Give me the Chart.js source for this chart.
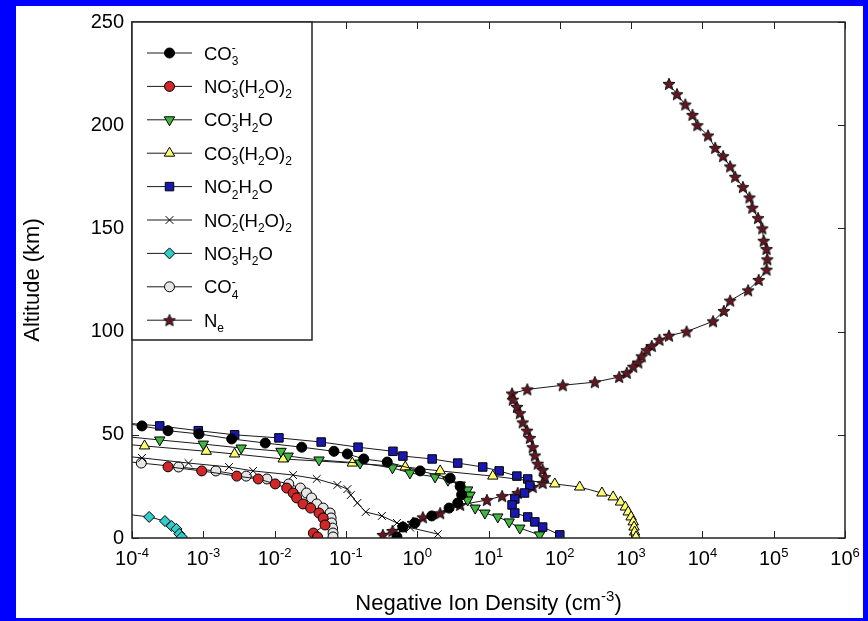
<!DOCTYPE html>
<html lang="en">
<head>
<meta charset="UTF-8">
<title>Negative Ion Density</title>
<script src="https://cdn.jsdelivr.net/npm/chart.js"></script>
<style>
  html, body { margin: 0; padding: 0; background: #0000ff; }
  #wrap { position: absolute; left: 0; top: 0; width: 868px; height: 621px; }
</style>
</head>
<body>
<div id="wrap"><canvas id="ionChart" width="868" height="621"></canvas></div>
<script>
// profiles: altitude (km) and density (cm^-3)
const co3Alt  = [56, 54.3, 52, 50.4, 48, 46, 44, 42, 40.7, 38.3, 36.8, 32.5, 29, 25, 21, 17, 14.5, 10.7, 7.3, 5.3, 0.5];
const co3Dens = [6.3e-5, 1.38e-4, 3.2e-4, 8.7e-4, 2.5e-3, 7.4e-3, 2.4e-2, 6.8e-2, 0.105, 0.178, 0.38, 1.1, 2.9, 4.0, 4.2, 3.7, 2.8, 1.6, 0.93, 0.63, 0.52];

const no3w2Alt  = [34.5, 32.5, 30, 28.6, 26.2, 24.2, 21.8, 19.4, 16.5, 14.5, 12.1, 9.7, 6.3, 2.4, 0.5];
const no3w2Dens = [3.2e-4, 9.5e-4, 2.95e-3, 5.9e-3, 1.02e-2, 1.48e-2, 1.82e-2, 2.04e-2, 2.5e-2, 3.2e-2, 4.2e-2, 4.8e-2, 5.1e-2, 3.5e-2, 4.0e-2];

const co3wAlt  = [49.5, 47.5, 45.5, 43.6, 42, 39.7, 37.8, 36.3, 34, 31.5, 29.6, 28, 25.7, 23.3, 20.8, 18.4, 14.5, 12.1, 10.2, 7.8, 4.8, 1.5];
const co3wDens = [6.3e-5, 2.45e-4, 1.0e-3, 3.4e-3, 1.23e-2, 1.55e-2, 4.2e-2, 0.158, 0.45, 0.79, 1.78, 2.7, 4.0, 5.1, 5.5, 5.1, 6.5, 8.9, 13.5, 19.5, 27.5, 52];

const co3w2Alt  = [45.7, 44.6, 42, 40.7, 38.3, 36.3, 34.4, 32.5, 30, 26.2, 24.7, 21.8, 19.9, 17.4, 15, 12.6, 10.2, 7.8, 5.3, 2.9, 0.5];
const co3w2Dens = [6.3e-5, 1.5e-4, 1.1e-3, 2.75e-3, 1.32e-2, 0.123, 0.68, 2.1, 11.5, 85, 190, 390, 560, 710, 830, 910, 1000, 1070, 1100, 1120, 1170];

const no2wAlt  = [56, 54.3, 52, 50, 48.5, 46.5, 44, 42, 39.7, 38.3, 36.3, 34.4, 32.5, 30, 28.6, 25.5, 21.8, 18.9, 16, 12.1, 10.2, 7.8, 5.3, 1.5];
const no2wDens = [6.3e-5, 2.45e-4, 8.5e-4, 2.75e-3, 1.15e-2, 4.5e-2, 0.148, 0.457, 0.63, 1.62, 3.7, 8.3, 14.1, 25, 35.5, 38, 32, 23.4, 21.4, 23.4, 35.5, 44.7, 57.5, 100];

const no2w2Alt  = [40, 38.8, 36.3, 34.4, 32.5, 30.5, 28.6, 25.7, 23.7, 20.8, 17, 12.6, 10.7, 7.3, 5, 1.9];
const no2w2Dens = [6.3e-5, 1.38e-4, 6.2e-4, 2.3e-3, 5.0e-3, 1.82e-2, 3.9e-2, 7.6e-2, 0.105, 0.117, 0.145, 0.19, 0.32, 0.52, 0.8, 1.95];

const no3wAlt  = [12, 10.2, 8.2, 5.8, 4.4, 2, 0.5];
const no3wDens = [6.3e-5, 1.74e-4, 2.9e-4, 3.6e-4, 4.2e-4, 4.6e-4, 5.0e-4];

const co4Alt  = [37.5, 36.3, 34.4, 32.5, 30, 28.6, 26.2, 24.2, 21.8, 19.4, 16.5, 14.5, 12.1, 9.7, 7.3, 4.8, 2.4, 0.5];
const co4Dens = [6.3e-5, 1.35e-4, 4.5e-4, 1.5e-3, 4.0e-3, 7.8e-3, 1.58e-2, 2.3e-2, 2.8e-2, 3.3e-2, 3.9e-2, 4.8e-2, 6.0e-2, 6.2e-2, 6.3e-2, 6.5e-2, 6.6e-2, 6.6e-2];

const neAlt  = [220, 215, 210, 205, 200, 195, 189, 185, 180, 175, 170, 165, 160, 155, 150, 144, 140, 135, 130, 125, 120, 115, 110, 105, 100, 98, 96, 93, 91, 88, 85, 83, 80, 78, 75.5, 74, 72, 70, 67, 63.5, 60.5, 56, 52, 48.5, 44, 40, 36, 33, 29.5, 26.6, 24.7, 21.8, 20.3, 18.4, 16, 12, 10, 7.3, 5.3, 3.4, 1.5];
const neDens = [3400, 4400, 5750, 7250, 8500, 12000, 15100, 19500, 24500, 28800, 37000, 45700, 50100, 60300, 69200, 72400, 79400, 81300, 79400, 61700, 43700, 24500, 20000, 14100, 6000, 3400, 2500, 1950, 1660, 1410, 1260, 1070, 870, 680, 310, 110, 35, 21.4, 21.9, 25.1, 27.5, 30.2, 34.7, 38, 41.7, 44.7, 49, 57.5, 61.7, 57.5, 41.7, 25.7, 15.5, 9.5, 4.0, 2.1, 1.2, 0.87, 0.63, 0.45, 0.33];

const seriesNames = ['CO₃⁻', 'NO₃⁻(H₂O)₂', 'CO₃⁻H₂O', 'CO₃⁻(H₂O)₂', 'NO₂⁻H₂O', 'NO₂⁻(H₂O)₂', 'NO₃⁻H₂O', 'CO₄⁻', 'Nₑ'];

const xTickVals   = [1e-4, 1e-3, 1e-2, 1e-1, 1e0, 1e1, 1e2, 1e3, 1e4, 1e5, 1e6];
const xTickLabels = ['10⁻⁴', '10⁻³', '10⁻²', '10⁻¹', '10⁰', '10¹', '10²', '10³', '10⁴', '10⁵', '10⁶'];
const yTickVals   = [0, 50, 100, 150, 200, 250];

const FONT = '"Liberation Sans", Arial, sans-serif';

// 5 point filled star, chart.js has no filled star
function makeStar(r, fill) {
    var s = Math.ceil(r * 2 + 3);
    var c = document.createElement('canvas');
    c.width = s; c.height = s;
    var g = c.getContext('2d');
    g.translate(s / 2, s / 2 + 0.5);
    g.beginPath();
    for (var i = 0; i < 10; i++) {
        var rr = i % 2 ? r * 0.45 : r;
        var a = -Math.PI / 2 + i * Math.PI / 5;
        g.lineTo(rr * Math.cos(a), rr * Math.sin(a));
    }
    g.closePath();
    g.fillStyle = fill; g.fill();
    g.strokeStyle = '#111'; g.lineWidth = 1; g.stroke();
    return c;
}
const starImg = makeStar(6.3, '#641520');

function pts(dens, alt) {
    return dens.map(function (d, i) { return { x: d, y: alt[i] }; });
}

function series(i, dens, alt, style, fill, size, extra) {
    return Object.assign({
        label: seriesNames[i],
        data: pts(dens, alt),
        showLine: true,
        borderColor: '#1a1a1a',
        borderWidth: 1,
        pointStyle: style,
        pointRadius: size,
        pointHoverRadius: size,
        pointBackgroundColor: fill,
        pointBorderColor: '#000',
        pointBorderWidth: 1,
        tension: 0
    }, extra || {});
}

// text with unicode sub/superscripts drawn as small raised / lowered glyphs
const SUB = { '₀': '0', '₁': '1', '₂': '2', '₃': '3', '₄': '4', 'ₑ': 'e' };
const SUP = { '⁰': '0', '¹': '1', '²': '2', '³': '3', '⁴': '4', '⁵': '5', '⁶': '6', '⁻': '-' };

function layoutRich(ctx, text, size) {
    var small = Math.round(size * 0.66);
    var out = [], cur = 0, subX = null;
    for (var ch of text) {
        var kind = SUB[ch] ? 'sub' : (SUP[ch] ? 'sup' : 'n');
        var t = kind === 'sub' ? SUB[ch] : (kind === 'sup' ? SUP[ch] : ch);
        ctx.font = (kind === 'n' ? size : small) + 'px ' + FONT;
        var w = ctx.measureText(t).width;
        if (kind === 'sup' && subX !== null) {
            out.push({ t: t, k: kind, x: subX, f: ctx.font });
            cur = Math.max(cur, subX + w);
            subX = null;
            continue;
        }
        out.push({ t: t, k: kind, x: cur, f: ctx.font });
        subX = kind === 'sub' ? cur : null;
        cur += w;
    }
    return { parts: out, width: cur };
}

function drawRich(ctx, text, x, y, size, align) {
    var lay = layoutRich(ctx, text, size);
    var x0 = align === 'center' ? x - lay.width / 2 : x;
    ctx.textBaseline = 'alphabetic';
    ctx.textAlign = 'left';
    lay.parts.forEach(function (p) {
        ctx.font = p.f;
        var dy = p.k === 'sub' ? size * 0.3 : (p.k === 'sup' ? -size * 0.42 : 0);
        ctx.fillText(p.t, x0 + p.x, y + dy);
    });
}

const framePlugin = {
    id: 'frame',
    beforeDraw: function (chart) {
        var ctx = chart.ctx;
        ctx.save();
        ctx.fillStyle = '#0000ff';
        ctx.fillRect(0, 0, chart.width, chart.height);
        ctx.fillStyle = '#ffffff';
        ctx.fillRect(16, 6, 847, 612);
        ctx.restore();
    },
    afterDatasetsDraw: function (chart) {
        var ctx = chart.ctx, a = chart.chartArea;
        var xs = chart.scales.x, ys = chart.scales.y;
        ctx.save();
        ctx.strokeStyle = '#222';
        ctx.lineWidth = 1.5;
        ctx.strokeRect(a.left, a.top, a.right - a.left, a.bottom - a.top);
        ctx.lineWidth = 1;
        ctx.beginPath();
        xTickVals.forEach(function (v) {
            var px = Math.round(xs.getPixelForValue(v)) + 0.5;
            ctx.moveTo(px, a.bottom); ctx.lineTo(px, a.bottom - 7);
            ctx.moveTo(px, a.top); ctx.lineTo(px, a.top + 7);
        });
        yTickVals.forEach(function (v) {
            var py = Math.round(ys.getPixelForValue(v)) + 0.5;
            ctx.moveTo(a.left, py); ctx.lineTo(a.left + 7, py);
            ctx.moveTo(a.right, py); ctx.lineTo(a.right - 7, py);
        });
        ctx.stroke();

        // x tick labels with superscript exponents
        ctx.fillStyle = '#000';
        xTickVals.forEach(function (v, i) {
            drawRich(ctx, xTickLabels[i], xs.getPixelForValue(v), a.bottom + 27, 20, 'center');
        });
        // x axis title
        drawRich(ctx, 'Negative Ion Density (cm⁻³)', (a.left + a.right) / 2, 610, 22, 'center');

        // legend box
        var lx = a.left, ly = a.top, lw = 180, lh = 318;
        ctx.fillStyle = '#fff';
        ctx.fillRect(lx, ly, lw, lh);
        ctx.strokeStyle = '#222';
        ctx.lineWidth = 1.5;
        ctx.strokeRect(lx, ly, lw, lh);
        chart.data.datasets.forEach(function (ds, i) {
            var ry = 53 + i * 33.4;
            ctx.strokeStyle = '#1a1a1a';
            ctx.lineWidth = 1;
            ctx.beginPath();
            ctx.moveTo(147, ry); ctx.lineTo(192, ry);
            ctx.stroke();
            ctx.fillStyle = ds.pointBackgroundColor;
            ctx.strokeStyle = ds.pointBorderColor;
            ctx.lineWidth = 1;
            if (Chart.helpers && Chart.helpers.drawPoint) {
                Chart.helpers.drawPoint(ctx, {
                    pointStyle: ds.pointStyle,
                    rotation: ds.pointRotation || 0,
                    radius: ds.pointRadius,
                    borderWidth: 1
                }, 169.5, ry);
            }
            ctx.fillStyle = '#000';
            drawRich(ctx, ds.label, 204, ry + 6.5, 18.5, 'left');
        });
        ctx.restore();
    }
};

const ctx = document.getElementById('ionChart').getContext('2d');
const ionChart = new Chart(ctx, {
    type: 'scatter',
    data: {
        datasets: [
            series(0, co3Dens, co3Alt, 'circle', '#000000', 5),
            series(1, no3w2Dens, no3w2Alt, 'circle', '#d02828', 5),
            series(2, co3wDens, co3wAlt, 'triangle', '#3fb83f', 6, { pointRotation: 180 }),
            series(3, co3w2Dens, co3w2Alt, 'triangle', '#ffff70', 6),
            series(4, no2wDens, no2wAlt, 'rect', '#1818b0', 6),
            series(5, no2w2Dens, no2w2Alt, 'crossRot', '#000000', 5.5),
            series(6, no3wDens, no3wAlt, 'rectRot', '#33cccc', 5.5),
            series(7, co4Dens, co4Alt, 'circle', '#e6e6e6', 5),
            series(8, neDens, neAlt, starImg, '#641520', 6)
        ]
    },
    options: {
        responsive: false,
        animation: false,
        events: [],
        layout: { padding: { left: 0, top: 22, right: 23, bottom: 0 } },
        plugins: {
            legend: { display: false },
            tooltip: { enabled: false }
        },
        scales: {
            x: {
                type: 'logarithmic',
                min: 1e-4,
                max: 1e6,
                grid: { display: false, drawTicks: false },
                border: { display: false },
                ticks: { display: false },
                afterFit: function (s) { s.height = 83; }
            },
            y: {
                min: 0,
                max: 250,
                grid: { display: false, drawTicks: false },
                border: { display: false },
                ticks: {
                    stepSize: 50,
                    padding: 8,
                    color: '#000',
                    font: { family: FONT, size: 20 }
                },
                title: {
                    display: true,
                    text: 'Altitude (km)',
                    color: '#000',
                    font: { family: FONT, size: 22 },
                    padding: { top: 20, bottom: 0 }
                },
                afterFit: function (s) { s.width = 132; }
            }
        }
    },
    plugins: [framePlugin]
});
</script>
</body>
</html>
